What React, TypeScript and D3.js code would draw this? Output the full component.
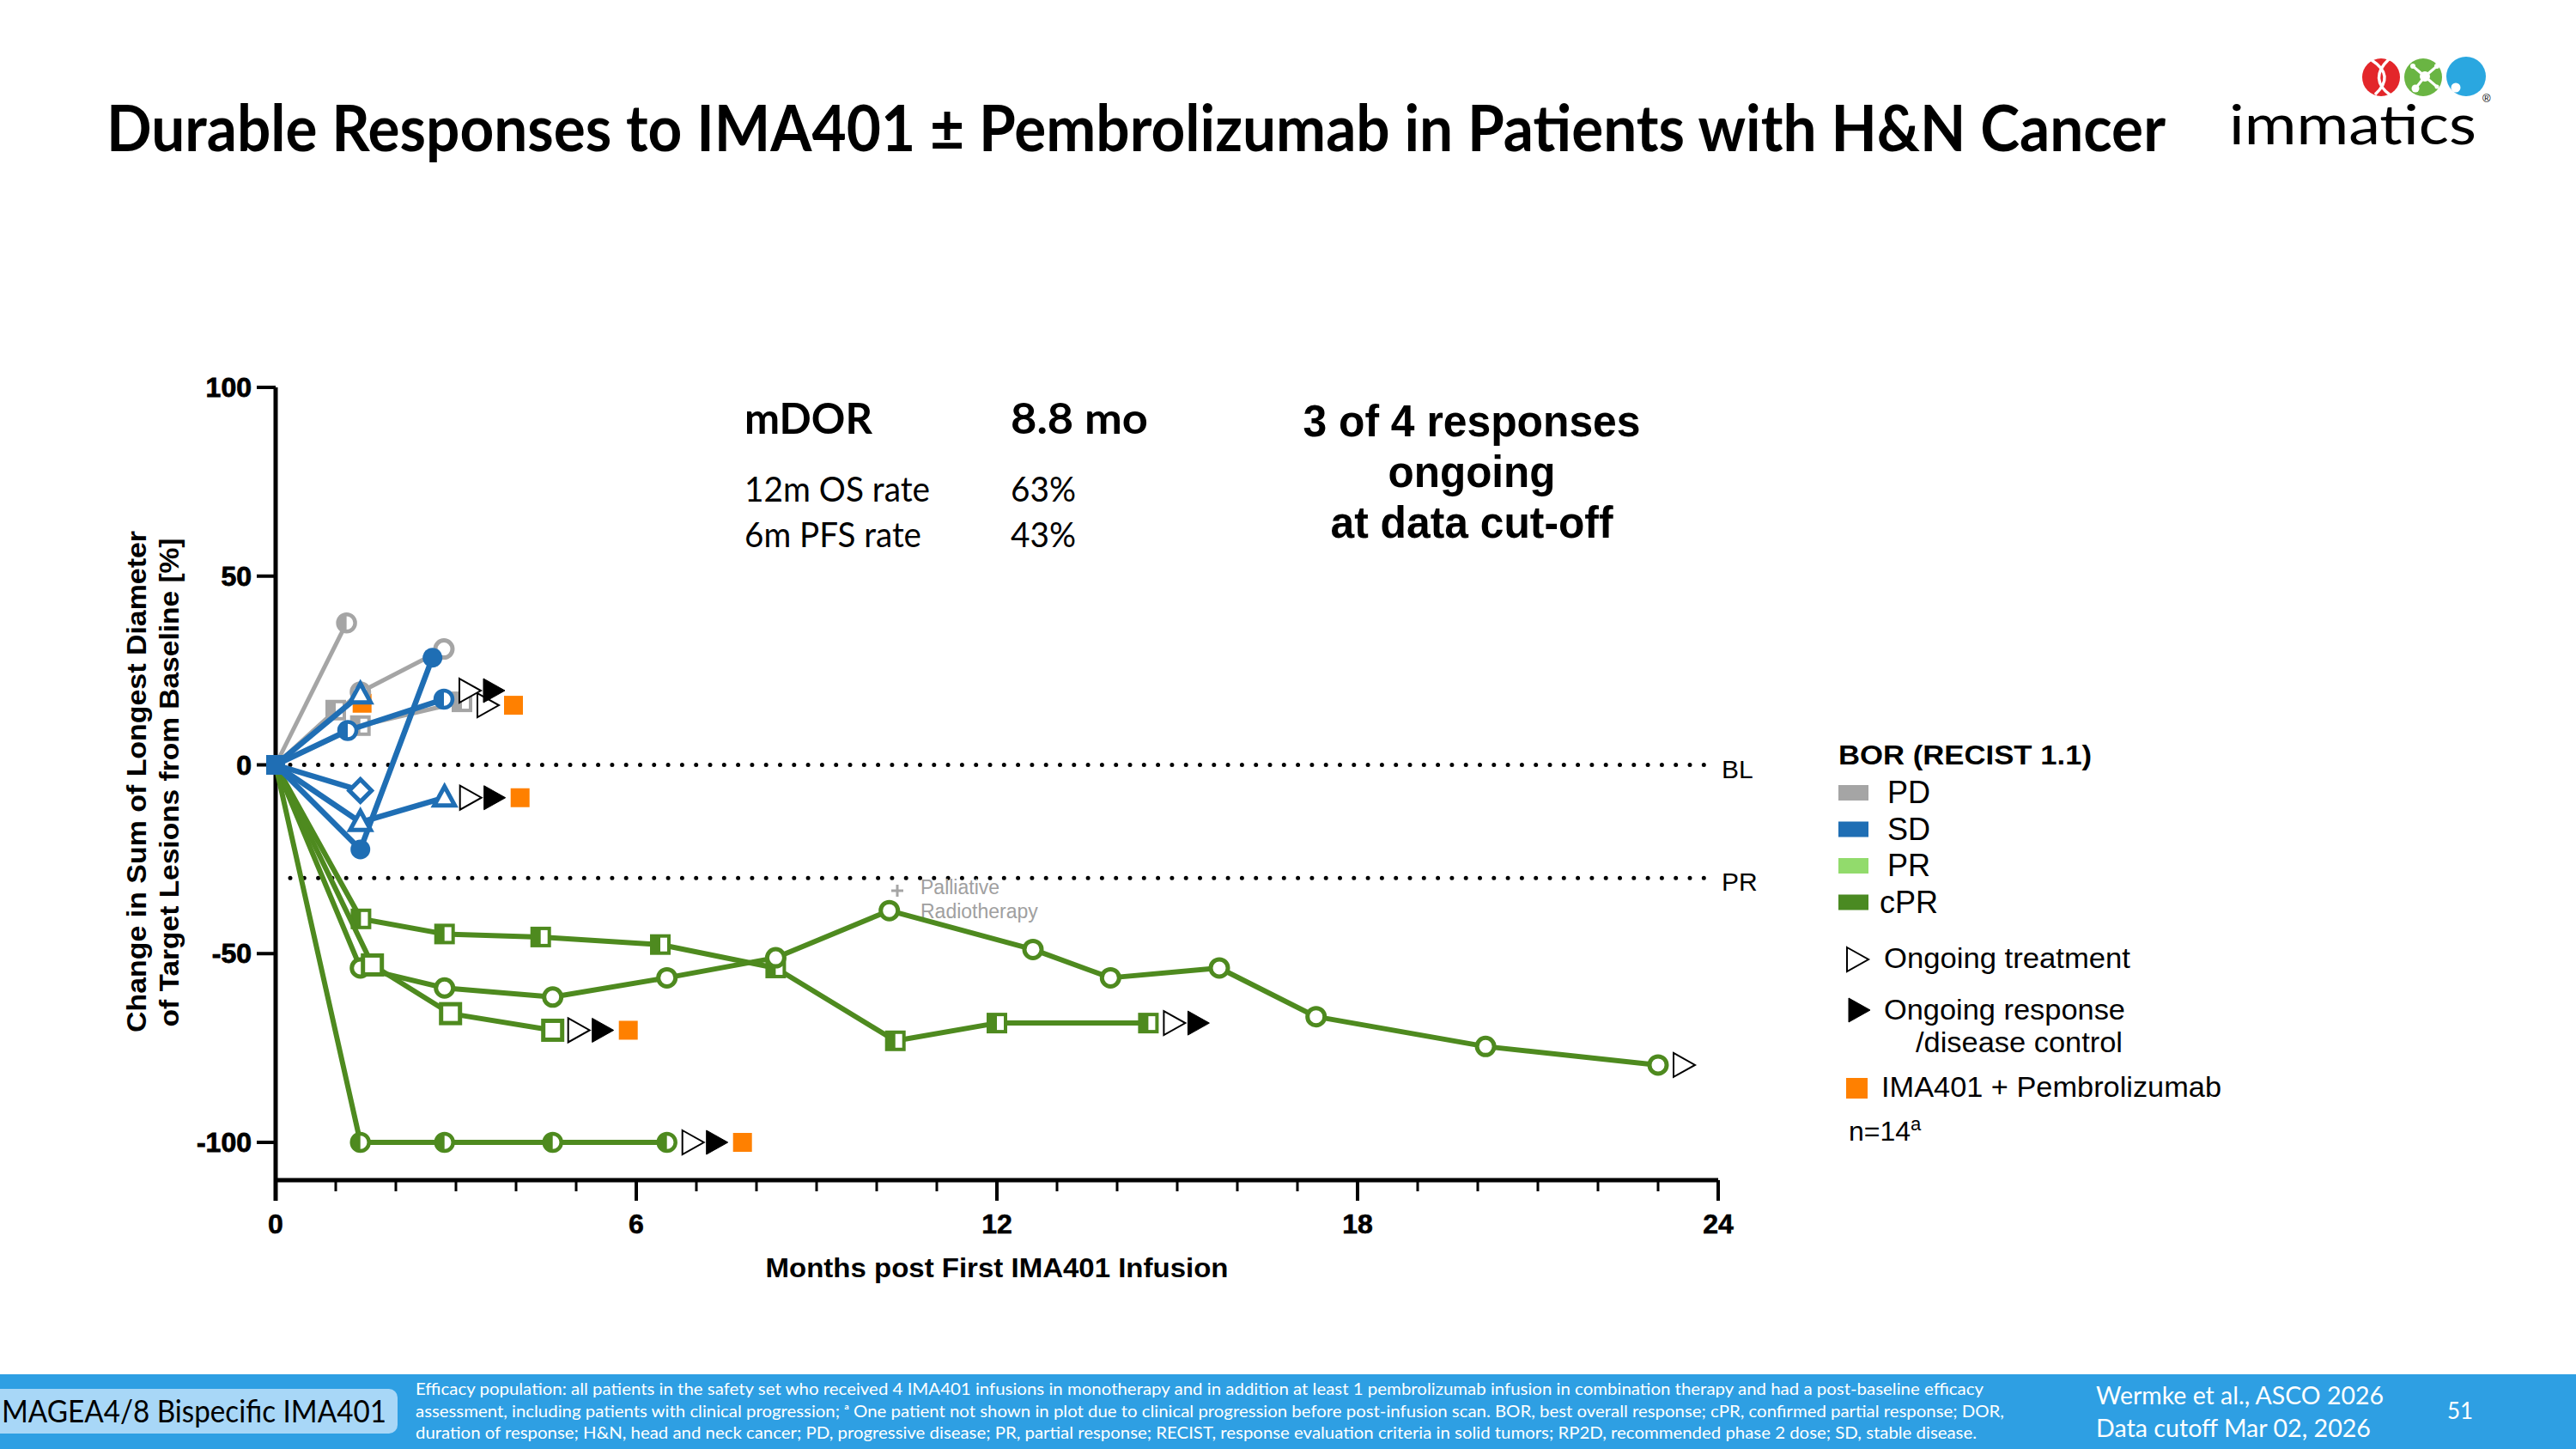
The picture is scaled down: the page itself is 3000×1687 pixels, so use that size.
import * as d3 from "d3";

// ---- data: [month, % change] per patient ----
const pd1 = [[0, 0], [1.18, 37.6]];
const pd2 = [[0, 0], [1.41, 19.3], [2.8, 30.7]];
const pd3 = [[0, 0], [1.0, 14.5]];
const pd4 = [[0, 0], [1.41, 10.4], [3.1, 16.7]];

const sd1 = [[0, 0], [1.41, -22.4], [2.61, 28.4]];
const sd2 = [[0, 0], [1.41, 18.6]];
const sd3 = [[0, 0], [1.2, 9.1], [2.8, 17.4]];
const sd4 = [[0, 0], [1.41, -6.8]];
const sd5 = [[0, 0], [1.41, -15.2], [2.81, -8.7]];

const cpr1 = [[0, 0], [1.42, -40.8], [2.81, -44.8], [4.41, -45.6], [6.4, -47.6], [8.32, -53.8], [10.31, -73.1], [12.0, -68.4], [14.52, -68.4]];
const cpr2 = [[0, 0], [1.41, -53.8], [2.81, -59.1], [4.61, -61.5], [6.51, -56.4], [8.32, -51.1], [10.21, -38.6], [12.6, -48.9], [13.89, -56.4], [15.7, -53.8], [17.31, -66.7], [20.13, -74.6], [23.0, -79.5]];
const cpr3 = [[0, 0], [1.61, -53], [2.91, -65.9], [4.61, -70.3]];
const cpr4 = [[0, 0], [1.41, -100], [2.81, -100], [4.61, -100], [6.51, -100]];

const ongoingTreatment = ["pd4", "sd3", "sd5", "cpr1", "cpr2", "cpr3", "cpr4"];
const ongoingResponse = ["sd3", "sd5", "cpr1", "cpr3", "cpr4"];
const combination = ["pd4", "sd2", "sd5", "cpr3", "cpr4"];

const yTicks = [-100, -50, 0, 50, 100];
const xTicks = [0, 6, 12, 18, 24];
const thresholds = [{ label: "BL", value: 0 }, { label: "PR", value: -30 }];

const legendBor = [
  { label: "PD", color: "#A5A5A5" },
  { label: "SD", color: "#1F6EB4" },
  { label: "PR", color: "#92DB6C" },
  { label: "cPR", color: "#4A8A22" },
];

const footnotes = [
  "Efficacy population: all patients in the safety set who received 4 IMA401 infusions in monotherapy and in addition at least 1 pembrolizumab infusion in combination therapy and had a post-baseline efficacy",
  "assessment, including patients with clinical progression; \u1d43 One patient not shown in plot due to clinical progression before post-infusion scan. BOR, best overall response; cPR, confirmed partial response; DOR,",
  "duration of response; H&N, head and neck cancer; PD, progressive disease; PR, partial response; RECIST, response evaluation criteria in solid tumors; RP2D, recommended phase 2 dose; SD, stable disease.",
];

const GRAY = "#A5A5A5";
const BLUE = "#1F6EB4";
const GREEN = "#4E8A1F";
const ORANGE = "#FF8000";

// draw order: green, gray, blue
const series = [
  { id: "cpr1", pts: cpr1, color: GREEN, marker: "halfSquare", width: 6 },
  { id: "cpr2", pts: cpr2, color: GREEN, marker: "circle", width: 6 },
  { id: "cpr3", pts: cpr3, color: GREEN, marker: "square", width: 6 },
  { id: "cpr4", pts: cpr4, color: GREEN, marker: "halfCircle", width: 6 },
  { id: "pd1", pts: pd1, color: GRAY, marker: "halfCircle", width: 5 },
  { id: "pd2", pts: pd2, color: GRAY, marker: "circle", width: 5 },
  { id: "pd3", pts: pd3, color: GRAY, marker: "halfSquare", width: 5 },
  { id: "pd4", pts: pd4, color: GRAY, marker: "halfSquare", width: 5 },
  { id: "sd1", pts: sd1, color: BLUE, marker: "filledCircle", width: 6.5 },
  { id: "sd2", pts: sd2, color: BLUE, marker: "triangle", width: 6.5 },
  { id: "sd3", pts: sd3, color: BLUE, marker: "halfCircle", width: 6.5 },
  { id: "sd4", pts: sd4, color: BLUE, marker: "diamond", width: 6.5 },
  { id: "sd5", pts: sd5, color: BLUE, marker: "triangle", width: 6.5 },
];

const flagNudge: Record<string, number> = { sd3: -10, pd4: 4 };

const x = d3.scaleLinear().domain([0, 24]).range([321, 2001]);
const y = d3.scaleLinear().domain([-100, 100]).range([1330, 451]);
const xAxisY = y(-110);
const line = d3.line<number[]>().x((d) => x(d[0])).y((d) => y(d[1]));

const ARIAL = "'Liberation Sans', Arial, sans-serif";
const CAL = "Lato, 'Open Sans', sans-serif";

function Marker({ type, color, cx, cy }: { type: string; color: string; cx: number; cy: number }) {
  if (type === "circle")
    return <circle cx={cx} cy={cy} r={10} fill="#fff" stroke={color} strokeWidth={5} />;
  if (type === "filledCircle")
    return <circle cx={cx} cy={cy} r={11.5} fill={color} />;
  if (type === "halfCircle")
    return (
      <g>
        <circle cx={cx} cy={cy} r={10} fill="#fff" stroke={color} strokeWidth={4.5} />
        <path d={`M${cx},${cy - 10} A10,10 0 0 0 ${cx},${cy + 10} Z`} fill={color} />
      </g>
    );
  if (type === "square")
    return <rect x={cx - 11} y={cy - 11} width={22} height={22} fill="#fff" stroke={color} strokeWidth={5} />;
  if (type === "halfSquare")
    return (
      <g>
        <rect x={cx - 10} y={cy - 10} width={20} height={20} fill="#fff" stroke={color} strokeWidth={4} />
        <rect x={cx - 10} y={cy - 10} width={10} height={20} fill={color} />
      </g>
    );
  if (type === "triangle")
    return (
      <path d={`M${cx},${cy - 13} L${cx + 12},${cy + 9} L${cx - 12},${cy + 9} Z`} fill="#fff" stroke={color} strokeWidth={5} strokeLinejoin="miter" />
    );
  if (type === "diamond")
    return (
      <path d={`M${cx},${cy - 13} L${cx + 13},${cy} L${cx},${cy + 13} L${cx - 13},${cy} Z`} fill="#fff" stroke={color} strokeWidth={5} />
    );
  return null;
}

function OpenArrow({ cx, cy, filled }: { cx: number; cy: number; filled: boolean }) {
  return (
    <path
      d={`M${cx - 12},${cy - 14} L${cx + 13},${cy} L${cx - 12},${cy + 14} Z`}
      fill={filled ? "#000" : "#fff"}
      stroke="#000"
      strokeWidth={filled ? 1 : 2}
    />
  );
}

function Flags({ s }: { s: (typeof series)[number] }) {
  const last = s.pts[s.pts.length - 1];
  const px = x(last[0]);
  const py = y(last[1]) + (flagNudge[s.id] || 0);
  const kinds: string[] = [];
  if (ongoingTreatment.includes(s.id)) kinds.push("tx");
  if (ongoingResponse.includes(s.id)) kinds.push("resp");
  if (combination.includes(s.id)) kinds.push("combo");
  if (kinds.length === 1 && kinds[0] === "combo") return null; // drawn under the marker
  return (
    <g>
      {kinds.map((k, i) => {
        const cx = px + 30 + 28 * i;
        if (k === "combo") return <rect key={k} x={cx - 9} y={py - 11} width={22} height={22} fill={ORANGE} />;
        return <OpenArrow key={k} cx={cx} cy={py} filled={k === "resp"} />;
      })}
    </g>
  );
}

function Logo() {
  return (
    <g>
      <circle cx={2773} cy={90} r={22} fill="#E3262A" />
      <path d="M2762,70 Q2790,88 2766,110" fill="none" stroke="#fff" strokeWidth={3.5} />
      <path d="M2782,69 Q2758,92 2784,111" fill="none" stroke="#fff" strokeWidth={3.5} />
      <circle cx={2822} cy={90} r={22} fill="#6AB543" />
      <g stroke="#fff" strokeWidth={3}>
        <line x1={2824} y1={89} x2={2810} y2={77} />
        <line x1={2824} y1={89} x2={2838} y2={77} />
        <line x1={2824} y1={89} x2={2813} y2={103} />
        <line x1={2824} y1={89} x2={2838} y2={101} />
      </g>
      <g fill="#fff">
        <circle cx={2824} cy={89} r={6} />
        <circle cx={2810} cy={77} r={3} />
        <circle cx={2838} cy={77} r={3} />
        <circle cx={2813} cy={103} r={4.5} />
        <circle cx={2838} cy={101} r={2.5} />
      </g>
      <circle cx={2872} cy={89} r={23} fill="#2AA7E0" />
      <circle cx={2860} cy={102} r={5.5} fill="#fff" />
      <text x={2596} y={168} fontFamily={CAL} fontWeight={400} fontSize={64} textLength={288} lengthAdjust="spacingAndGlyphs">
        immatics
      </text>
      <text x={2891} y={119} fontFamily={ARIAL} fontSize={13}>®</text>
    </g>
  );
}

export default function App() {
  const minor = d3.range(0, 25, 1);
  return (
    <div style={{ position: "absolute", left: 0, top: 0 }}>
      <svg width={3000} height={1687} style={{ display: "block" }}>
        <rect width={3000} height={1687} fill="#fff" />

        <text transform="translate(124,176) scale(1,1.1)" fontFamily={CAL} fontWeight={700} fontSize={68} textLength={2398} lengthAdjust="spacingAndGlyphs">
          Durable Responses to IMA401 ± Pembrolizumab in Patients with H&amp;N Cancer
        </text>
        <Logo />

        {/* threshold lines */}
        {thresholds.map((t) => (
          <g key={t.label}>
            <line x1={338} x2={1990} y1={y(t.value)} y2={y(t.value)} stroke="#000" strokeWidth={5} strokeDasharray="0 16.3" strokeLinecap="round" />
            <text x={2005} y={y(t.value) + 15} fontFamily={ARIAL} fontSize={30}>{t.label}</text>
          </g>
        ))}

        {/* axes */}
        <line x1={x(0)} x2={x(0)} y1={y(100)} y2={xAxisY + 24} stroke="#000" strokeWidth={5} />
        <line x1={x(0)} x2={x(24)} y1={xAxisY} y2={xAxisY} stroke="#000" strokeWidth={5} />
        {yTicks.map((t) => (
          <g key={t}>
            <line x1={x(0) - 22} x2={x(0)} y1={y(t)} y2={y(t)} stroke="#000" strokeWidth={4} />
            <text x={293} y={y(t) + 11} textAnchor="end" fontFamily={ARIAL} fontWeight={700} fontSize={32} stroke="#000" strokeWidth={0.8}>{t}</text>
          </g>
        ))}
        {minor.map((m) => (
          <line key={m} x1={x(m)} x2={x(m)} y1={xAxisY} y2={xAxisY + (m % 6 === 0 ? 24 : 13)} stroke="#000" strokeWidth={m % 6 === 0 ? 4 : 3} />
        ))}
        {xTicks.map((t) => (
          <text key={t} x={x(t)} y={1436} textAnchor="middle" fontFamily={ARIAL} fontWeight={700} fontSize={32} stroke="#000" strokeWidth={0.6}>{t}</text>
        ))}
        <text x={1161} y={1487} textAnchor="middle" fontFamily={ARIAL} fontWeight={700} fontSize={32} textLength={539} lengthAdjust="spacingAndGlyphs">
          Months post First IMA401 Infusion
        </text>
        <text transform="translate(170,910) rotate(-90)" textAnchor="middle" fontFamily={ARIAL} fontWeight={700} fontSize={32} textLength={584} lengthAdjust="spacingAndGlyphs">
          Change in Sum of Longest Diameter
        </text>
        <text transform="translate(208,911) rotate(-90)" textAnchor="middle" fontFamily={ARIAL} fontWeight={700} fontSize={32} textLength={569} lengthAdjust="spacingAndGlyphs">
          of Target Lesions from Baseline [%]
        </text>

        {/* palliative radiotherapy note */}
        <g stroke="#A5A5A5" strokeWidth={3}>
          <line x1={1038} x2={1052} y1={1037} y2={1037} />
          <line x1={1045} x2={1045} y1={1030} y2={1044} />
        </g>
        <text x={1072} y={1041} fontFamily={ARIAL} fontSize={23} fill="#A0A0A0">Palliative</text>
        <text x={1072} y={1069} fontFamily={ARIAL} fontSize={23} fill="#A0A0A0">Radiotherapy</text>

        {/* combination squares under markers */}
        {series
          .filter((s) => combination.includes(s.id) && !ongoingTreatment.includes(s.id) && !ongoingResponse.includes(s.id))
          .map((s) => {
            const last = s.pts[s.pts.length - 1];
            return <rect key={s.id} x={x(last[0]) - 9} y={y(last[1]) - 1} width={22} height={22} fill={ORANGE} />;
          })}

        {/* series */}
        {series.map((s) => (
          <g key={s.id}>
            <path d={line(s.pts) || ""} fill="none" stroke={s.color} strokeWidth={s.width} strokeLinejoin="round" />
            <rect x={x(0) - 11} y={y(0) - 11} width={22} height={22} fill={s.color} />
            {s.pts.slice(1).map((p, i) => (
              <Marker key={i} type={s.marker} color={s.color} cx={x(p[0])} cy={y(p[1])} />
            ))}
            <Flags s={s} />
          </g>
        ))}

        {/* stats block */}
        <text x={867} y={505} fontFamily={CAL} fontWeight={700} fontSize={50} textLength={149} lengthAdjust="spacingAndGlyphs">mDOR</text>
        <text x={1177} y={505} fontFamily={CAL} fontWeight={700} fontSize={50} textLength={160} lengthAdjust="spacingAndGlyphs">8.8 mo</text>
        <text x={867} y={584} fontFamily={CAL} fontSize={40} textLength={216} lengthAdjust="spacingAndGlyphs">12m OS rate</text>
        <text x={1177} y={584} fontFamily={CAL} fontSize={40} textLength={76} lengthAdjust="spacingAndGlyphs">63%</text>
        <text x={867} y={637} fontFamily={CAL} fontSize={40} textLength={206} lengthAdjust="spacingAndGlyphs">6m PFS rate</text>
        <text x={1177} y={637} fontFamily={CAL} fontSize={40} textLength={76} lengthAdjust="spacingAndGlyphs">43%</text>
        <g fontFamily={ARIAL} fontWeight={700} fontSize={52} textAnchor="middle">
          <text x={1714} y={508} textLength={393} lengthAdjust="spacingAndGlyphs">3 of 4 responses</text>
          <text x={1714} y={567} textLength={195} lengthAdjust="spacingAndGlyphs">ongoing</text>
          <text x={1714} y={626} textLength={329} lengthAdjust="spacingAndGlyphs">at data cut-off</text>
        </g>

        {/* legend */}
        <g fontFamily={ARIAL}>
          <text x={2141} y={890} fontWeight={700} fontSize={32} textLength={295} lengthAdjust="spacingAndGlyphs">BOR (RECIST 1.1)</text>
          {legendBor.map((l, i) => (
            <g key={l.label} transform={`translate(0,${923 + i * 42.5})`}>
              <rect x={2141} y={-9} width={35} height={18} fill={l.color} />
              <text x={l.label === "cPR" ? 2189 : 2198} y={12} fontSize={36}>{l.label}</text>
            </g>
          ))}
          <OpenArrow cx={2163} cy={1117} filled={false} />
          <text x={2194} y={1127} fontSize={33} textLength={287} lengthAdjust="spacingAndGlyphs">Ongoing treatment</text>
          <OpenArrow cx={2165} cy={1176} filled={true} />
          <text x={2194} y={1187} fontSize={33} textLength={281} lengthAdjust="spacingAndGlyphs">Ongoing response</text>
          <text x={2231} y={1225} fontSize={33} textLength={241} lengthAdjust="spacingAndGlyphs">/disease control</text>
          <rect x={2150} y={1255} width={25} height={24} fill={ORANGE} />
          <text x={2191} y={1277} fontSize={33} textLength={396} lengthAdjust="spacingAndGlyphs">IMA401 + Pembrolizumab</text>
          <text x={2153} y={1328} fontSize={32}>
            n=14<tspan dy={-12} fontSize={22}>a</tspan>
          </text>
        </g>

        {/* footer */}
        <rect x={0} y={1600} width={3000} height={87} fill="#2E9FE3" />
        <rect x={-10} y={1617} width={473} height={52} rx={10} fill="#A8D7F7" />
        <text x={2} y={1656} fontFamily={CAL} fontSize={37} textLength={448} lengthAdjust="spacingAndGlyphs">MAGEA4/8 Bispecific IMA401</text>
        {footnotes.map((f, i) => (
          <text key={i} x={484} y={1624 + i * 25.5} fontFamily={CAL} fontSize={19.5} fill="#fff" textLength={[1826, 1850, 1818][i]} lengthAdjust="spacingAndGlyphs">
            {f}
          </text>
        ))}
        <text x={2441} y={1635} fontFamily={CAL} fontSize={28} fill="#fff" textLength={335} lengthAdjust="spacingAndGlyphs">Wermke et al., ASCO 2026</text>
        <text x={2441} y={1673} fontFamily={CAL} fontSize={28} fill="#fff" textLength={320} lengthAdjust="spacingAndGlyphs">Data cutoff Mar 02, 2026</text>
        <text x={2865} y={1652} textAnchor="middle" fontFamily={CAL} fontSize={26} fill="#fff">51</text>
      </svg>
    </div>
  );
}
